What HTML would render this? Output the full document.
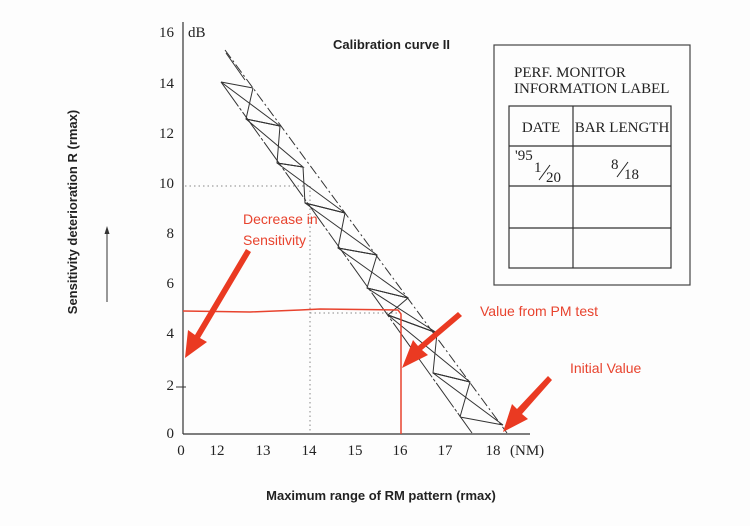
<!DOCTYPE html>
<html><head><meta charset="utf-8"><style>
html,body{margin:0;padding:0;background:#fff;}
svg{display:block;}
.s{font-family:"Liberation Serif",serif;font-size:15px;fill:#222;}
.b{font-family:"Liberation Sans",sans-serif;font-weight:bold;font-size:13px;fill:#222;}
.r{font-family:"Liberation Sans",sans-serif;font-size:14px;fill:#e8432e;}
</style></head><body>
<svg width="750" height="526" viewBox="0 0 750 526" xmlns="http://www.w3.org/2000/svg">
<rect width="750" height="526" fill="#fdfdfd"/>
<line x1="183" y1="22" x2="183" y2="434" stroke="#333" stroke-width="1.2"/>
<line x1="183" y1="434" x2="530" y2="434" stroke="#333" stroke-width="1.2"/>
<line x1="176" y1="387" x2="186" y2="387" stroke="#333"/>
<g class="s" text-anchor="end">
<text x="174" y="37">16</text><text x="174" y="88">14</text><text x="174" y="138">12</text>
<text x="174" y="188">10</text><text x="174" y="238">8</text><text x="174" y="288">6</text>
<text x="174" y="338">4</text><text x="174" y="390">2</text><text x="174" y="438">0</text>
</g>
<text class="s" x="188" y="37">dB</text>
<g class="s" text-anchor="middle">
<text x="181" y="455">0</text><text x="217" y="455">12</text><text x="263" y="455">13</text>
<text x="309" y="455">14</text><text x="355" y="455">15</text><text x="400" y="455">16</text>
<text x="445" y="455">17</text><text x="493" y="455">18</text>
</g>
<text class="s" x="510" y="455">(NM)</text>
<text class="b" x="333" y="49" font-size="12">Calibration curve II</text>
<text class="b" x="381" y="500" text-anchor="middle">Maximum range of RM pattern (rmax)</text>
<text class="b" transform="translate(77,212) rotate(-90)" text-anchor="middle">Sensitivity deterioration R (rmax)</text>
<line x1="107" y1="302" x2="107" y2="232" stroke="#333"/>
<polygon points="107,226 104.5,234 109.5,234" fill="#333"/>
<g stroke="#888" stroke-dasharray="1.5,3">
<line x1="185" y1="186" x2="310" y2="186"/>
<line x1="310" y1="186" x2="310" y2="433"/>
<line x1="310" y1="313" x2="400" y2="313"/>
</g>
<g stroke="#333" stroke-width="1" fill="none">
<line x1="225" y1="50" x2="507" y2="433" stroke-dasharray="10,3,2,3"/>
<line x1="226" y1="53" x2="245" y2="80"/>
<line x1="221" y1="82" x2="472" y2="433" stroke-dasharray="30,2,3,2"/>
<line x1="221" y1="82" x2="253" y2="88"/><line x1="246" y1="119" x2="280" y2="126"/>
<line x1="277" y1="163" x2="303" y2="167"/><line x1="305" y1="203" x2="345" y2="213"/>
<line x1="338" y1="248" x2="377" y2="255"/><line x1="367" y1="288" x2="408" y2="298"/>
<line x1="388" y1="315" x2="437" y2="333"/><line x1="433" y1="373" x2="470" y2="382"/>
<line x1="460" y1="417" x2="503" y2="425"/>
<polyline points="253,88 246,119 280,126 277,163 303,167 305,203 345,213 338,248 377,255 367,288 408,298 388,315 437,333 433,373 470,382 460,417"/>
<polyline points="221,82 280,126 246,119 303,167 277,163 345,213 305,203 377,255 338,248 408,298 367,288 437,333 388,315 470,382 433,373 503,425"/>
</g>
<rect x="494" y="45" width="196" height="240" fill="none" stroke="#444" stroke-width="1.2"/>
<text class="s" x="514" y="77" font-size="14">PERF. MONITOR</text>
<text class="s" x="514" y="93" font-size="14">INFORMATION LABEL</text>
<g stroke="#333" stroke-width="1.2" fill="none">
<rect x="509" y="106" width="162" height="162"/>
<line x1="573" y1="106" x2="573" y2="268"/>
<line x1="509" y1="146" x2="671" y2="146"/>
<line x1="509" y1="186" x2="671" y2="186"/>
<line x1="509" y1="228" x2="671" y2="228"/>
</g>
<text class="s" x="541" y="132" text-anchor="middle" font-size="14">DATE</text>
<text class="s" x="622" y="132" text-anchor="middle" font-size="14">BAR LENGTH</text>
<text class="s" x="515" y="160" font-size="12">'95</text>
<text class="s" x="534" y="172" font-size="14">1</text>
<line x1="539" y1="180" x2="550" y2="165" stroke="#222"/>
<text class="s" x="546" y="182" font-size="13">20</text>
<text class="s" x="611" y="169" font-size="14">8</text>
<line x1="617" y1="177" x2="628" y2="162" stroke="#222"/>
<text class="s" x="624" y="179" font-size="13">18</text>
<polyline points="183,311 250,312 300,310 320,309 398,310 401,314 401,434" stroke="#e8432e" stroke-width="1.5" fill="none"/>
<text class="r" x="243" y="224">Decrease in</text>
<text class="r" x="243" y="245">Sensitivity</text>
<text class="r" x="480" y="316">Value from PM test</text>
<text class="r" x="570" y="373">Initial Value</text>
<g fill="#ea3a22">
<polygon points="251,252 246,249 195,335 188,330 185,358 207,342 200,338"/>
<polygon points="462,316 458,312 418,346 413,340 402,368 428,355 422,350"/>
<polygon points="552,380 548,376 517,409 512,404 503,432 528,419 522,414"/>
</g>
</svg>
</body></html>
